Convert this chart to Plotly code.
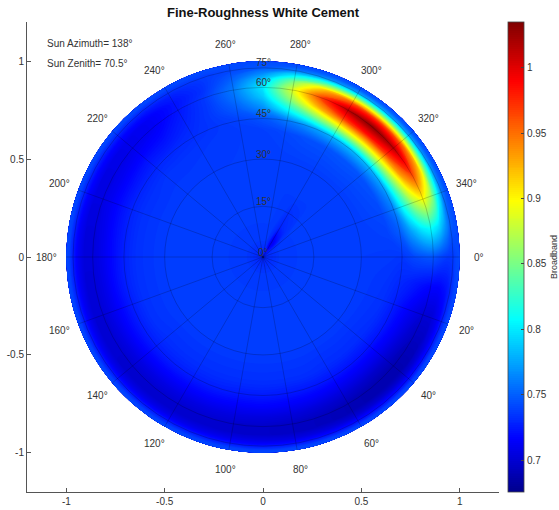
import numpy as np
import plotly.graph_objects as go

TITLE = "Fine-Roughness White Cement"
SUN_AZIMUTH = 138
SUN_ZENITH = 70.5
CBAR_TITLE = "Broadband"

# sampling of the read-off field: zenith rings (deg) x azimuth (deg, 0..350 step 10)
ZENITH = [0, 5, 10, 20, 30, 40, 45, 50, 55, 60, 65, 70, 75, 80, 90]
AZIMUTH = list(range(0, 360, 10))

BB_Z00 = [0.728, 0.728, 0.728, 0.728, 0.728, 0.728, 0.728, 0.728, 0.728, 0.728, 0.728, 0.728,
          0.728, 0.728, 0.728, 0.728, 0.728, 0.728, 0.728, 0.728, 0.728, 0.728, 0.728, 0.728,
          0.728, 0.728, 0.728, 0.728, 0.728, 0.728, 0.728, 0.728, 0.728, 0.728, 0.728, 0.728]
BB_Z05 = [0.736, 0.736, 0.736, 0.736, 0.736, 0.736, 0.736, 0.736, 0.736, 0.736, 0.736, 0.736,
          0.736, 0.736, 0.736, 0.736, 0.736, 0.736, 0.736, 0.736, 0.736, 0.736, 0.736, 0.736,
          0.736, 0.736, 0.736, 0.736, 0.736, 0.730, 0.708, 0.718, 0.733, 0.736, 0.736, 0.736]
BB_Z10 = [0.737, 0.737, 0.737, 0.737, 0.737, 0.737, 0.737, 0.737, 0.737, 0.737, 0.737, 0.737,
          0.737, 0.737, 0.737, 0.737, 0.737, 0.737, 0.737, 0.737, 0.737, 0.737, 0.737, 0.737,
          0.737, 0.737, 0.737, 0.737, 0.737, 0.736, 0.728, 0.732, 0.737, 0.737, 0.737, 0.737]
BB_Z20 = [0.737, 0.737, 0.737, 0.737, 0.737, 0.737, 0.737, 0.737, 0.737, 0.737, 0.737, 0.737,
          0.737, 0.737, 0.737, 0.737, 0.737, 0.737, 0.737, 0.737, 0.737, 0.737, 0.737, 0.737,
          0.737, 0.737, 0.737, 0.737, 0.737, 0.737, 0.737, 0.737, 0.737, 0.737, 0.737, 0.737]
BB_Z30 = [0.737, 0.737, 0.737, 0.737, 0.737, 0.737, 0.737, 0.737, 0.737, 0.737, 0.737, 0.737,
          0.737, 0.737, 0.737, 0.737, 0.737, 0.737, 0.737, 0.737, 0.737, 0.737, 0.737, 0.737,
          0.737, 0.737, 0.737, 0.737, 0.737, 0.737, 0.737, 0.737, 0.737, 0.737, 0.737, 0.737]
BB_Z40 = [0.736, 0.734, 0.733, 0.732, 0.731, 0.731, 0.731, 0.732, 0.732, 0.732, 0.732, 0.732,
          0.732, 0.732, 0.732, 0.733, 0.733, 0.733, 0.733, 0.733, 0.733, 0.733, 0.734, 0.734,
          0.735, 0.736, 0.737, 0.738, 0.741, 0.744, 0.745, 0.746, 0.745, 0.744, 0.742, 0.739]
BB_Z45 = [0.735, 0.730, 0.726, 0.724, 0.722, 0.722, 0.723, 0.724, 0.724, 0.725, 0.725, 0.726,
          0.726, 0.726, 0.726, 0.726, 0.726, 0.727, 0.727, 0.727, 0.728, 0.728, 0.729, 0.730,
          0.732, 0.735, 0.739, 0.746, 0.759, 0.771, 0.779, 0.781, 0.779, 0.772, 0.761, 0.748]
BB_Z50 = [0.741, 0.726, 0.717, 0.713, 0.710, 0.710, 0.711, 0.713, 0.714, 0.715, 0.715, 0.716,
          0.716, 0.716, 0.716, 0.717, 0.717, 0.718, 0.718, 0.719, 0.720, 0.720, 0.722, 0.723,
          0.729, 0.736, 0.748, 0.769, 0.813, 0.856, 0.882, 0.889, 0.882, 0.859, 0.821, 0.775]
BB_Z55 = [0.745, 0.721, 0.708, 0.701, 0.697, 0.697, 0.699, 0.701, 0.703, 0.704, 0.705, 0.706,
          0.706, 0.706, 0.706, 0.707, 0.708, 0.708, 0.709, 0.710, 0.712, 0.712, 0.714, 0.717,
          0.726, 0.736, 0.756, 0.789, 0.860, 0.929, 0.971, 0.983, 0.971, 0.934, 0.872, 0.799]
BB_Z60 = [0.746, 0.717, 0.701, 0.693, 0.688, 0.688, 0.690, 0.693, 0.695, 0.697, 0.698, 0.699,
          0.699, 0.699, 0.699, 0.700, 0.701, 0.702, 0.703, 0.704, 0.706, 0.707, 0.709, 0.712,
          0.723, 0.736, 0.759, 0.799, 0.884, 0.966, 1.015, 1.030, 1.015, 0.971, 0.898, 0.810]
BB_Z65 = [0.740, 0.716, 0.701, 0.693, 0.688, 0.688, 0.690, 0.693, 0.695, 0.697, 0.698, 0.699,
          0.699, 0.699, 0.699, 0.700, 0.701, 0.702, 0.703, 0.704, 0.706, 0.707, 0.709, 0.712,
          0.722, 0.733, 0.753, 0.786, 0.854, 0.920, 0.960, 0.971, 0.960, 0.925, 0.866, 0.796]
BB_Z70 = [0.736, 0.721, 0.711, 0.705, 0.701, 0.701, 0.702, 0.705, 0.706, 0.708, 0.709, 0.709,
          0.709, 0.709, 0.709, 0.710, 0.711, 0.712, 0.712, 0.713, 0.715, 0.716, 0.717, 0.720,
          0.726, 0.734, 0.746, 0.764, 0.801, 0.835, 0.856, 0.862, 0.856, 0.837, 0.807, 0.770]
BB_Z75 = [0.736, 0.730, 0.726, 0.722, 0.720, 0.720, 0.721, 0.722, 0.723, 0.724, 0.724, 0.725,
          0.725, 0.725, 0.725, 0.725, 0.726, 0.726, 0.726, 0.727, 0.728, 0.728, 0.729, 0.730,
          0.733, 0.736, 0.741, 0.747, 0.758, 0.767, 0.773, 0.775, 0.773, 0.768, 0.759, 0.749]
BB_Z80 = [0.741, 0.739, 0.738, 0.738, 0.737, 0.737, 0.737, 0.738, 0.738, 0.738, 0.738, 0.738,
          0.738, 0.738, 0.738, 0.738, 0.738, 0.738, 0.739, 0.739, 0.739, 0.739, 0.739, 0.740,
          0.740, 0.741, 0.742, 0.744, 0.746, 0.749, 0.750, 0.751, 0.750, 0.749, 0.747, 0.744]
BB_Z90 = [0.742, 0.742, 0.742, 0.742, 0.742, 0.742, 0.742, 0.742, 0.742, 0.742, 0.742, 0.742,
          0.742, 0.742, 0.742, 0.742, 0.742, 0.742, 0.742, 0.742, 0.742, 0.742, 0.742, 0.742,
          0.742, 0.742, 0.742, 0.742, 0.742, 0.742, 0.742, 0.742, 0.742, 0.742, 0.742, 0.742]

ROWS = [BB_Z00, BB_Z05, BB_Z10, BB_Z20, BB_Z30, BB_Z40, BB_Z45, BB_Z50,
        BB_Z55, BB_Z60, BB_Z65, BB_Z70, BB_Z75, BB_Z80, BB_Z90]

ANGLE_LABELS = list(range(0, 360, 20))
ZENITH_RINGS = [15, 30, 45, 60, 75]
ZENITH_LABELS = [0, 15, 30, 45, 60, 75]
AXIS_TICKS = [-1, -0.5, 0, 0.5, 1]
AXIS_TICKTEXT = ["-1", "-0.5", "0", "0.5", "1"]
CB_TICKS = [0.7, 0.75, 0.8, 0.85, 0.9, 0.95, 1.0]
CB_TICKTEXT = ["0.7", "0.75", "0.8", "0.85", "0.9", "0.95", "1"]
CMIN, CMAX = 0.6756, 1.035

JET = [[0.0, "rgb(0,0,143)"], [0.111, "rgb(0,0,255)"], [0.365, "rgb(0,255,255)"],
       [0.619, "rgb(255,255,0)"], [0.873, "rgb(255,0,0)"], [1.0, "rgb(128,0,0)"]]

# carpet: a = zenith, b = azimuth (closed at 360); radius = sin(zenith), azimuth clockwise from +x
b_closed = AZIMUTH + [360]
zen_rad = np.radians(ZENITH)
az_rad = np.radians(b_closed)
X = [[float(np.sin(t) * np.cos(p)) for t in zen_rad] for p in az_rad]
Y = [[float(-np.sin(t) * np.sin(p)) for t in zen_rad] for p in az_rad]
Z = [[ROWS[i][j % 36] for i in range(len(ZENITH))] for j in range(len(b_closed))]

hidden_axis = dict(showgrid=False, showline=False, showticklabels="none",
                   startline=False, endline=False, minorgridcount=0,
                   title=dict(text=""), smoothing=1)

fig = go.Figure()
fig.add_trace(go.Carpet(a=ZENITH, b=b_closed, x=X, y=Y, carpet="brdf",
                        aaxis=hidden_axis, baxis=hidden_axis))
fig.add_trace(go.Contourcarpet(
    a=ZENITH, b=b_closed, z=Z, carpet="brdf",
    autocontour=False,
    contours=dict(start=0.677, end=1.034, size=0.0015, coloring="fill", showlines=False),
    line=dict(width=0),
    colorscale=JET, zmin=CMIN, zmax=CMAX,
    colorbar=dict(x=1.019, xanchor="left", xpad=0, y=0.5, yanchor="middle", len=1.0,
                  ypad=0, thickness=16, outlinecolor="#444", outlinewidth=0.8,
                  ticks="inside", ticklen=3, tickcolor="#444",
                  tickvals=CB_TICKS, ticktext=CB_TICKTEXT,
                  tickfont=dict(size=10, color="#333"),
                  title=dict(text=CBAR_TITLE, side="right", font=dict(size=9, color="#333"))),
))

shapes = []
grid = dict(color="rgba(0,0,0,0.28)", width=0.7)
for z in ZENITH_RINGS:
    r = float(np.sin(np.radians(z)))
    shapes.append(dict(type="circle", xref="x", yref="y", x0=-r, y0=-r, x1=r, y1=r,
                       line=grid, layer="above"))
for a in ANGLE_LABELS:
    p = np.radians(a)
    shapes.append(dict(type="line", xref="x", yref="y", x0=0, y0=0,
                       x1=float(np.cos(p)), y1=float(-np.sin(p)), line=grid, layer="above"))

ann = []
lab_font = dict(size=10, color="#333", family="Liberation Sans, Arial, sans-serif")
for a in ANGLE_LABELS:
    p = np.radians(a)
    ann.append(dict(x=float(1.1 * np.cos(p)), y=float(-1.1 * np.sin(p)), xref="x", yref="y",
                    text=f"{a}°", showarrow=False, font=lab_font,
                    xanchor="center", yanchor="middle"))
for z in ZENITH_LABELS:
    r = float(np.sin(np.radians(z)))
    ann.append(dict(x=0, y=r + 0.025, xref="x", yref="y", text=f"{z}°", showarrow=False,
                    font=lab_font, xanchor="center", yanchor="middle"))
ann.append(dict(x=-1.11, y=1.09, xref="x", yref="y", text=f"Sun Azimuth= {SUN_AZIMUTH}°",
                showarrow=False, font=lab_font, xanchor="left", yanchor="middle"))
ann.append(dict(x=-1.11, y=0.99, xref="x", yref="y", text=f"Sun Zenith= {SUN_ZENITH}°",
                showarrow=False, font=lab_font, xanchor="left", yanchor="middle"))

axis_common = dict(range=[-1.2, 1.2], showgrid=False, zeroline=False, showline=True,
                   linecolor="#555", linewidth=1, ticks="inside", ticklen=4, tickcolor="#555",
                   tickvals=AXIS_TICKS, ticktext=AXIS_TICKTEXT,
                   tickfont=dict(size=10, color="#333"), mirror=False)

fig.update_layout(
    width=559, height=510,
    margin=dict(l=27, r=60, t=22, b=18, autoexpand=False),
    paper_bgcolor="white", plot_bgcolor="white",
    font=dict(family="Liberation Sans, Arial, sans-serif", color="#333"),
    title=dict(text=f"<b>{TITLE}</b>", x=0.4705, xanchor="center", y=1 - 12 / 510,
               yanchor="middle", font=dict(size=13, color="#111")),
    xaxis=axis_common, yaxis=axis_common,
    shapes=shapes, annotations=ann, showlegend=False,
)

fig.write_html("out.html")
